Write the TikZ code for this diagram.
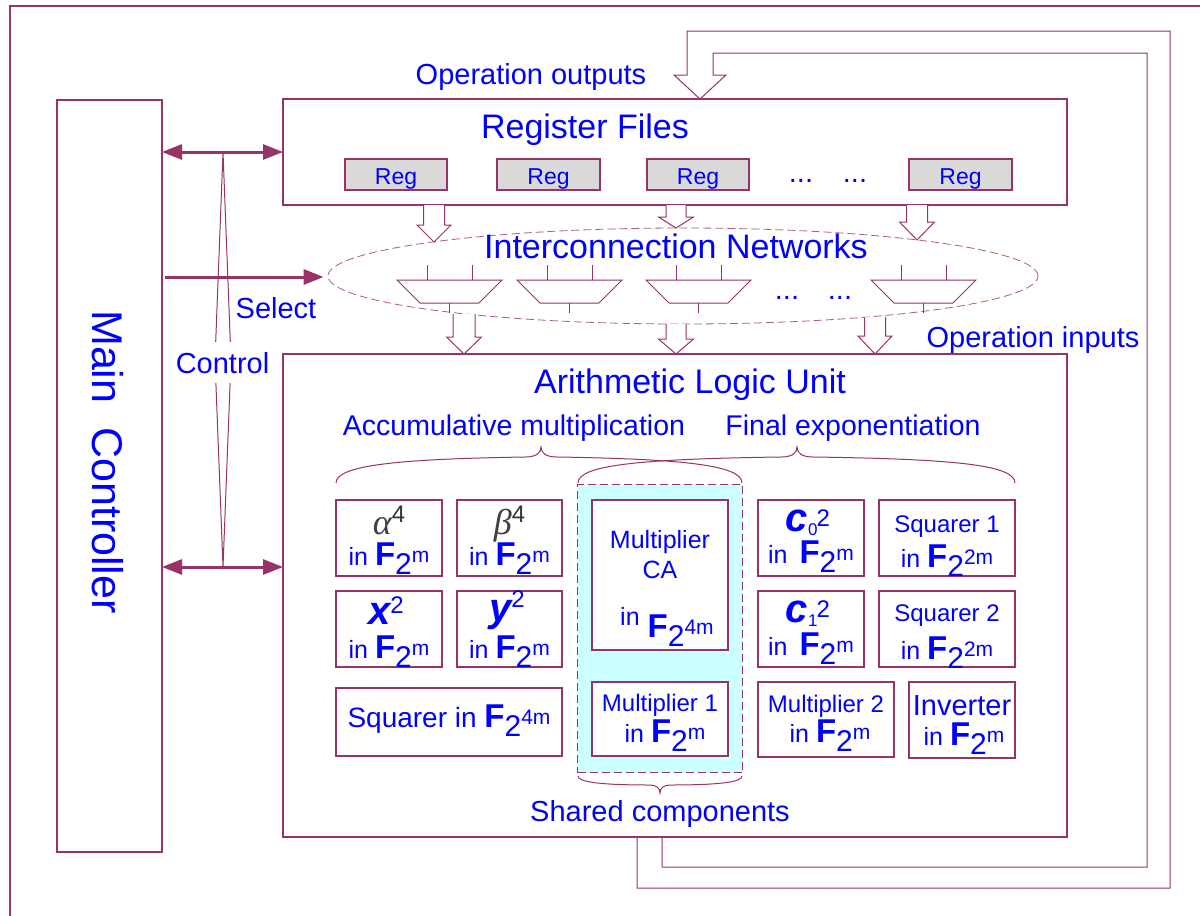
\documentclass[tikz,border=0pt]{standalone}
\usepackage{fontspec}
\setmainfont{Liberation Sans}
\newfontfamily\serifit{Liberation Serif}
\usetikzlibrary{arrows.meta,shapes.geometric}
\definecolor{mg}{RGB}{153,51,102}
\definecolor{tblue}{RGB}{0,0,255}
\definecolor{regfill}{RGB}{217,217,217}
\definecolor{cyanfill}{RGB}{204,255,255}
\newcommand\fsz[1]{\fontsize{#1}{#1}\selectfont}
\newcommand\FF[1]{{\fsz{33}\bfseries F}\raisebox{-9pt}{\fsz{30}2}\raisebox{3pt}{\fsz{21}#1}}
\newcommand\bx[6][]{\node[box,#1,anchor=north west,minimum width={#5-#3},minimum height={#6-#4}] (#2) at (#3,#4) {};}
\newcommand\blkdown[6]{\draw[blk] (#1-#5,#2) -- (#1-#5,#3) -- (#1-#6,#3) -- (#1,#4) -- (#1+#6,#3) -- (#1+#5,#3) -- (#1+#5,#2);}
\newcommand\mux[1]{%
 \draw[thinl] (#1,280) -- (#1+105,280) -- (#1+82,303) -- (#1+23,303) -- cycle;
 \draw[thinl] (#1+30,265) -- (#1+30,280) (#1+75,265) -- (#1+75,280) (#1+52,303) -- (#1+52,313);}
\begin{document}
\begin{tikzpicture}[x=1pt,y=-1pt,
 box/.style={draw=mg,line width=1.2pt,rectangle,inner sep=0pt,outer sep=0pt,fill=white},
 tx/.style={text=tblue,inner sep=0pt,anchor=base},
 blk/.style={draw=mg,line width=1pt,fill=white,line join=miter},
 thinl/.style={draw=mg,line width=1pt},
 dbl/.style={draw=mg,line width=3pt,{Triangle[length=20pt,width=15pt]}-{Triangle[length=20pt,width=15pt]}},
 sgl/.style={draw=mg,line width=3pt,-{Triangle[length=20pt,width=15pt]}},
 dsh/.style={dash pattern=on 8pt off 4pt}]
\useasboundingbox (0,0) rectangle (1200,916);
\fill[white] (0,0) rectangle (1200,916);
% outer frame
\draw[thinl,line width=1.2pt] (10,916) -- (10,6) -- (1200,6);
% main controller
\bx{mc}{57}{100}{162}{852}
\node[text=tblue,rotate=-90,font=\fsz{43}] (mct) at (108,462) {Main\ \ Controller};
% register files
\bx{rf}{283}{99}{1067}{205}
\node[tx,font=\fsz{34}] (rft) at (585,138) {Register Files};
\bx[fill=regfill]{r1}{345}{159}{447}{190}
\bx[fill=regfill]{r2}{497}{159}{600}{190}
\bx[fill=regfill]{r3}{647}{159}{749}{190}
\bx[fill=regfill]{r4}{909}{159}{1012}{190}
\foreach \n in {r1,r2,r3,r4}{\node[tx,font=\fsz{23}] at ([yshift=-10pt]\n.center) {Reg};}
\node[tx,font=\fsz{29}] (rd1) at (801,182) {...};
\node[tx,font=\fsz{29}] (rd2) at (855,182) {...};
% ALU
\bx{alu}{283}{354}{1067}{837}
% interconnection
\node[draw=mg!80,line width=0.8pt,dsh,ellipse,minimum width=710,minimum height=96,inner sep=0pt] (icn) at (683,276) {};
\node[tx,font=\fsz{34}] (icnt) at (676,258) {Interconnection Networks};
\blkdown{434}{205}{225}{242}{10.5}{17}
\blkdown{676}{205}{217}{228}{10}{17.5}
\blkdown{917}{205}{222}{240}{10.5}{17.5}
\mux{397}\mux{517}\mux{646}\mux{871}
\node[tx,font=\fsz{29}] (id1) at (787,299) {...};
\node[tx,font=\fsz{29}] (id2) at (840,299) {...};
\blkdown{464}{314}{337}{354}{11}{17.5}
\blkdown{676}{324}{339}{354}{10}{17.5}
\blkdown{875}{317}{336}{354}{10.5}{17}
% ALU content
\node[tx,font=\fsz{34}] (alut) at (690,393) {Arithmetic Logic Unit};
\node[tx,font=\fsz{28.5}] (acc) at (514,435) {Accumulative multiplication};
\node[tx,font=\fsz{28.5}] (fin) at (853,435) {Final exponentiation};
\node[draw=mg,fill=cyanfill,dsh,line width=1pt,anchor=north west,minimum width=165,minimum height=288,inner sep=0pt] (shared) at (577,484) {};
\draw[thinl] (336,483) .. controls (336,465) and (400,459) .. (525,457) .. controls (536,457) and (541,453) .. (541,447) .. controls (541,453) and (546,457) .. (557,457) .. controls (682,459) and (742,465) .. (742,483);
\draw[thinl] (578,483) .. controls (578,465) and (640,459) .. (781,457) .. controls (792,457) and (797,453) .. (797,447) .. controls (797,453) and (802,457) .. (813,457) .. controls (955,459) and (1015,465) .. (1015,483);
\draw[thinl] (578,776) .. controls (578,782) and (600,785) .. (650,785) .. controls (656,785) and (660,788) .. (660,793) .. controls (660,788) and (664,785) .. (670,785) .. controls (720,785) and (742,782) .. (742,776);
\node[tx,font=\fsz{29}] (sht) at (660,821) {Shared components};
% boxes
\bx{ba}{336}{500}{442}{576}
\bx{bb}{457}{500}{562}{576}
\bx{bxx}{336}{591}{442}{667}
\bx{byy}{457}{591}{562}{667}
\bx{bsq}{336}{688}{562}{756}
\bx{bca}{592}{500}{728}{650}
\bx{bm1}{592}{682}{728}{756}
\bx{bc0}{758}{500}{864}{576}
\bx{bs1}{879}{500}{1015}{576}
\bx{bc1}{758}{591}{864}{667}
\bx{bs2}{879}{591}{1015}{667}
\bx{bm2}{758}{682}{894}{757}
\bx{binv}{909}{682}{1015}{758}
% box texts
\node[tx] at (389,534) {{\color{black!75}\serifit\itshape\fsz{36}α}\raisebox{12pt}{\color{black!80}\fsz{24}4}};
\node[tx] at (389,565) {{\fsz{25}in }\FF{m}};
\node[tx] at (509.5,534) {{\color{black!75}\serifit\itshape\fsz{36}β}\raisebox{12pt}{\color{black!80}\fsz{24}4}};
\node[tx] at (509.5,565) {{\fsz{25}in }\FF{m}};
\node[tx] at (386,624) {{\fsz{40}\bfseries\itshape x}\raisebox{11pt}{\fsz{24}2}};
\node[tx] at (389,658) {{\fsz{25}in }\FF{m}};
\node[tx] at (507,621) {{\fsz{40}\bfseries\itshape y}\raisebox{14pt}{\fsz{24}2}};
\node[tx] at (509.5,658) {{\fsz{25}in }\FF{m}};
\node[tx] at (449,727) {{\fsz{28}Squarer in }\FF{4m}};
\node[tx,font=\fsz{25}] at (660,548) {Multiplier};
\node[tx,font=\fsz{25}] at (660,578) {CA};
\node[tx,anchor=base west] at (620,637) {\raisebox{12pt}{\fsz{25}in}\hspace{8pt}\FF{4m}};
\node[tx,font=\fsz{24}] at (660,711) {Multiplier 1};
\node[tx] at (665,742) {{\fsz{25}in }\FF{m}};
\node[tx] at (808,531) {{\fsz{40}\bfseries\itshape c}\raisebox{-4pt}{\fsz{17}0}\kern-1pt\raisebox{5pt}{\fsz{24}2}};
\node[tx] at (811,563) {{\fsz{25}in\hspace{12pt}}\FF{m}};
\node[tx] at (808,622) {{\fsz{40}\bfseries\itshape c}\raisebox{-4pt}{\fsz{17}1}\kern-1pt\raisebox{5pt}{\fsz{24}2}};
\node[tx] at (811,655) {{\fsz{25}in\hspace{12pt}}\FF{m}};
\node[tx,font=\fsz{24}] at (947,532) {Squarer 1};
\node[tx] at (947,567) {{\fsz{25}in }\FF{2m}};
\node[tx,font=\fsz{24}] at (947,621) {Squarer 2};
\node[tx] at (947,659) {{\fsz{25}in }\FF{2m}};
\node[tx,font=\fsz{24}] at (826,712) {Multiplier 2};
\node[tx] at (830,742) {{\fsz{25}in }\FF{m}};
\node[tx,font=\fsz{29}] at (962,715) {Inverter};
\node[tx] at (964,745) {{\fsz{25}in }\FF{m}};
% feedback loop
\draw[blk,fill=none] (637,837) -- (637,888) -- (1170,888) -- (1170,31) -- (687,31) -- (687,75) -- (674,75) -- (700,99) -- (726,75) -- (713,75) -- (713,53) -- (1147,53) -- (1147,867) -- (662,867) -- (662,837);
\node[tx,font=\fsz{29}] (oo) at (531,84) {Operation outputs};
\node[tx,font=\fsz{29}] (oi) at (1033,347) {Operation inputs};
% control
\draw[thinl] (223,152) -- (215,360) -- (223,567) -- (231,360) -- cycle;
\draw[dbl] (mc.east |- rf.west) -- (rf.west);
\coordinate (aluin) at (283,567);
\draw[dbl] (mc.east |- aluin) -- (aluin);
\coordinate (selS) at (165,277);
\draw[sgl,shorten >=4pt] (selS) -- (selS -| icn.west);
\node[tx,font=\fsz{29}] (selt) at (276,318) {Select};
\node[tx,font=\fsz{29},fill=white,inner ysep=10pt,inner xsep=1pt] (ctl) at (222.5,373) {Control};
\end{tikzpicture}
\end{document}
